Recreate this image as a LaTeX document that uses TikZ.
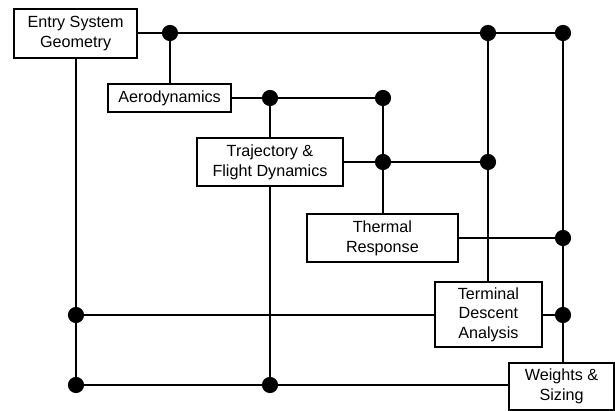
\documentclass[tikz,border=0pt]{standalone}
\usepackage{fontspec}
\setmainfont{Liberation Sans}
\usetikzlibrary{positioning}
\tikzset{blk/.style={draw,line width=1pt,fill=white,align=center,inner sep=2pt,
  font=\fontsize{11.5}{14}\selectfont}}

\begin{document}
\begin{tikzpicture}[line width=1.25pt]
\useasboundingbox (0,0) rectangle (15.375,10.275);

\node[blk,minimum width=3.075cm,minimum height=1.225cm] (esg) at (1.89,9.44) {Entry System\\Geometry};
\node[blk,minimum width=3.075cm,minimum height=0.7cm] (aero) at (4.24,7.825) {Aerodynamics};
\node[blk,minimum width=3.65cm,minimum height=1.2cm] (traj) at (6.75,6.225) {Trajectory \&\\Flight Dynamics};
\node[blk,minimum width=3.775cm,minimum height=1.2cm] (thr) at (9.56,4.325) {Thermal\\Response};
\node[blk,minimum width=2.675cm,minimum height=1.625cm] (tda) at (12.21,2.41) {Terminal\\Descent\\Analysis};
\node[blk,minimum width=2.625cm,minimum height=1.175cm] (ws) at (14.04,0.61) {Weights \&\\Sizing};

\coordinate (j1) at (4.25,9.45);
\coordinate (j2) at (12.2,9.45);
\coordinate (j3) at (14.075,9.45);
\coordinate (j4) at (6.75,7.825);
\coordinate (j5) at (9.575,7.825);
\coordinate (j6) at (9.575,6.225);
\coordinate (j7) at (12.2,6.225);
\coordinate (j8) at (14.075,4.325);
\coordinate (j9) at (14.075,2.4);
\coordinate (j10) at (1.9,2.4);
\coordinate (j11) at (1.9,0.65);
\coordinate (j12) at (6.75,0.65);

\draw (esg.east |- j1) -- (j3) -- (ws.north -| j3);
\draw (j1) -- (aero.north -| j1);
\draw (aero.east |- j4) -- (j5) -- (thr.north -| j5);
\draw (j4) -- (traj.north -| j4);
\draw (traj.south -| j4) -- (j12);
\draw (traj.east |- j6) -- (j7);
\draw (j2) -- (tda.north -| j2);
\draw (thr.east |- j8) -- (j8);
\draw (tda.east |- j9) -- (j9);
\draw (esg.south -| j10) -- (j11) -- (ws.west |- j11);
\draw (j10) -- (tda.west |- j10);

\foreach \j in {j1,j2,j3,j4,j5,j6,j7,j8,j9,j10,j11,j12}
  \filldraw[black] (\j) circle (0.18);
\end{tikzpicture}
\end{document}
